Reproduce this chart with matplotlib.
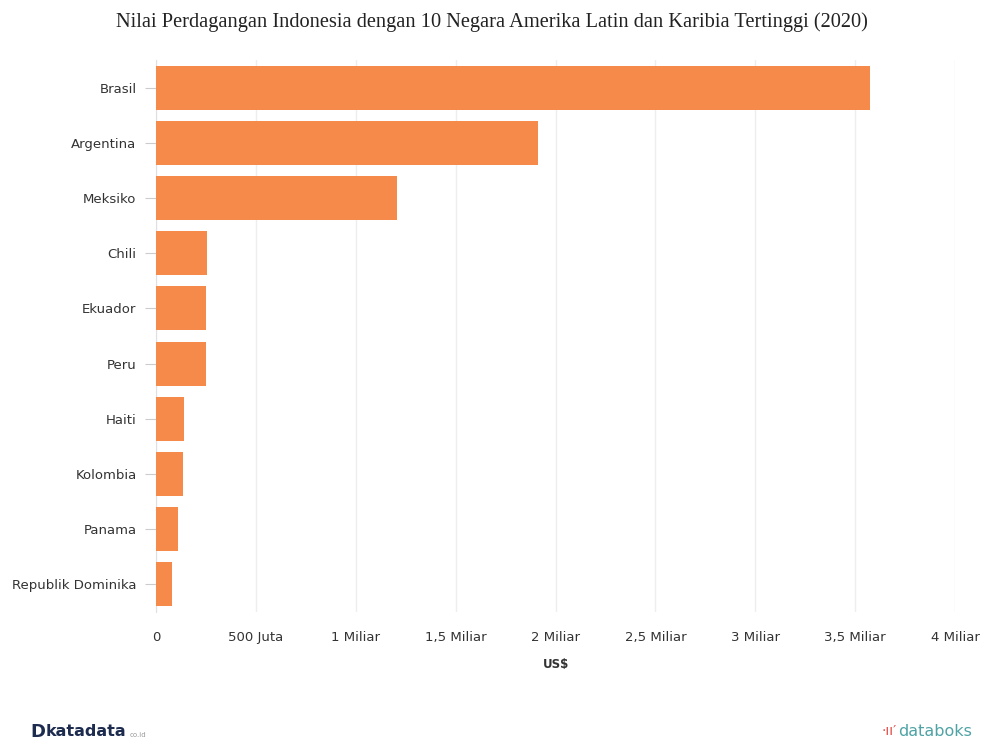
import matplotlib
matplotlib.use("Agg")
import matplotlib.pyplot as plt

countries = ["Brasil", "Argentina", "Meksiko", "Chili", "Ekuador", "Peru",
             "Haiti", "Kolombia", "Panama", "Republik Dominika"]
values = [3.575, 1.91, 1.205, 0.257, 0.25, 0.25, 0.138, 0.133, 0.108, 0.08]  # Miliar US$

xticks = [0, 0.5, 1, 1.5, 2, 2.5, 3, 3.5, 4]
xtick_labels = ["0", "500 Juta", "1 Miliar", "1,5 Miliar", "2 Miliar",
                "2,5 Miliar", "3 Miliar", "3,5 Miliar", "4 Miliar"]

bar_color = "#F58A4B"
text_color = "#333333"

fig = plt.figure(figsize=(9.84, 7.40), dpi=100)
ax = fig.add_axes([156 / 984, 1 - 612 / 740, (955 - 156) / 984, (612 - 60) / 740])

ypos = list(range(len(countries)))
ax.barh(ypos, values, height=0.8, color=bar_color, zorder=3)

ax.set_xlim(0, 4)
ax.set_ylim(len(countries) - 0.5, -0.5)
ax.set_yticks(ypos)
ax.set_yticklabels(countries, fontsize=9.5, color=text_color)
ax.set_xticks(xticks)
ax.set_xticklabels(xtick_labels, fontsize=9.5, color=text_color)

ax.grid(axis="x", color="#eeeeee", linewidth=1, zorder=0)
for side in ["top", "right", "bottom"]:
    ax.spines[side].set_visible(False)
ax.spines["left"].set_color("#e0e0e0")
ax.tick_params(axis="y", length=8, color="#cccccc", pad=6)
ax.tick_params(axis="x", length=0, pad=14)

ax.set_xlabel("US$", fontsize=8.5, fontweight="bold", color=text_color, labelpad=10)

fig.text(0.5, 1 - 22 / 740, "Nilai Perdagangan Indonesia dengan 10 Negara Amerika Latin dan Karibia Tertinggi (2020)",
         ha="center", va="center", fontsize=14.7, family="Liberation Serif", color="#222222")

# footer logos
fig.text(30 / 984, 1 - 732 / 740, "D", ha="left", va="center", fontsize=13,
         fontweight="bold", color="#1d2b4f")
fig.text(46 / 984, 1 - 732 / 740, "katadata", ha="left", va="center", fontsize=11.5,
         fontweight="bold", color="#1d2b4f")
fig.text(130 / 984, 1 - 735 / 740, "co.id", ha="left", va="center", fontsize=5,
         color="#999999")
fig.text(972 / 984, 1 - 732 / 740, "databoks", ha="right", va="center", fontsize=11.5,
         color="#4fa3a5")
fig.text(897 / 984, 1 - 731 / 740, "\u00b7\u0131\u0131\u2032", ha="right", va="center",
         fontsize=10, color="#e0504a")

fig.savefig("out.png", dpi=100)
